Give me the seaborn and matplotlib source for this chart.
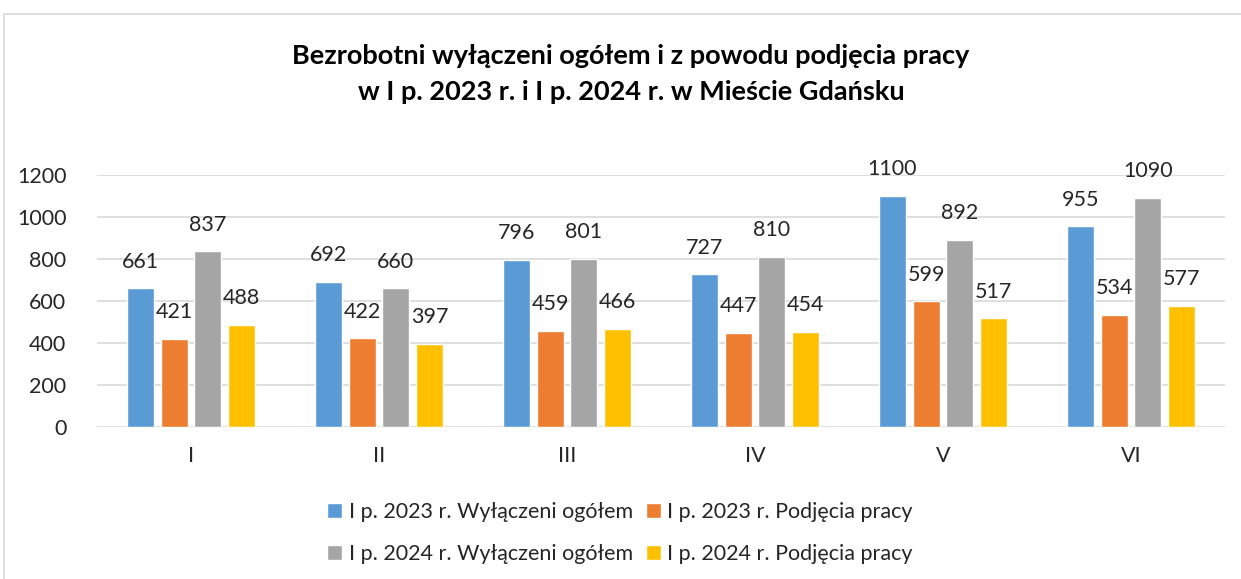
import pandas as pd
import numpy as np
import seaborn as sns
import matplotlib.pyplot as plt
from matplotlib.patches import Rectangle

# Data
months = ['I', 'II', 'III', 'IV', 'V', 'VI']
series = ['I p. 2023 r. Wyłączeni ogółem', 'I p. 2023 r. Podjęcia pracy',
          'I p. 2024 r. Wyłączeni ogółem', 'I p. 2024 r. Podjęcia pracy']
wyl_2023 = [661, 692, 796, 727, 1100, 955]
podj_2023 = [421, 422, 459, 447, 599, 534]
wyl_2024 = [837, 660, 801, 810, 892, 1090]
podj_2024 = [488, 397, 466, 454, 517, 577]
colors = ['#5b9bd5', '#ed7d31', '#a5a5a5', '#ffc000']

rows = []
for name, vals in zip(series, [wyl_2023, podj_2023, wyl_2024, podj_2024]):
    for m, v in zip(months, vals):
        rows.append({'Miesiąc': m, 'Seria': name, 'Liczba': v})
df = pd.DataFrame(rows)

sns.set_style('white')
plt.rcParams['font.family'] = ['Lato', 'DejaVu Sans']

fig = plt.figure(figsize=(12.41, 5.79), dpi=100)
ax = fig.add_axes([97 / 1241, 1 - 427 / 579, 1128 / 1241, 252 / 579])

sns.barplot(data=df, x='Miesiąc', y='Liczba', hue='Seria', order=months,
            hue_order=series, palette=colors, width=0.72, gap=0.2,
            saturation=1, ax=ax, legend=True)

for cont in ax.containers:
    ax.bar_label(cont, padding=12, fontsize=15.5, color='#262626')

ax.set_ylim(0, 1200)
ax.set_yticks(range(0, 1201, 200))
ax.set_xlim(-0.5, 5.5)
ax.grid(axis='y', color='#d9d9d9', linewidth=1.2)
ax.set_axisbelow(True)
for s in ['top', 'right', 'left', 'bottom']:
    ax.spines[s].set_visible(False)
ax.tick_params(axis='both', length=0, labelsize=15.5, colors='#262626')
ax.tick_params(axis='y', pad=22)
ax.tick_params(axis='x', pad=14)
ax.set_xlabel('')
ax.set_ylabel('')

# legend filled row by row like the original
handles, labels = ax.get_legend_handles_labels()
ax.get_legend().remove()
order = [0, 2, 1, 3]
fig.legend([handles[i] for i in order], [labels[i] for i in order],
           loc='center', bbox_to_anchor=(620 / 1241, 1 - 533 / 579),
           ncol=2, frameon=False, fontsize=15.5, handlelength=0.7, handleheight=0.7,
           handletextpad=0.3, columnspacing=0.6, labelspacing=1.05,
           labelcolor='#262626')

fig.text(631 / 1241, 1 - 74 / 579,
         'Bezrobotni wyłączeni ogółem i z powodu podjęcia pracy\nw I p. 2023 r. i I p. 2024 r. w Mieście Gdańsku',
         ha='center', va='center', fontsize=19.5, fontweight='bold',
         linespacing=1.6, color='#000000')

fig.patches.append(Rectangle((4 / 1241, -0.1), 1.1, 1 - 14 / 579 + 0.1,
                             transform=fig.transFigure, fill=False,
                             edgecolor='#d9d9d9', linewidth=1.2))

plt.savefig('out.png', dpi=100)
